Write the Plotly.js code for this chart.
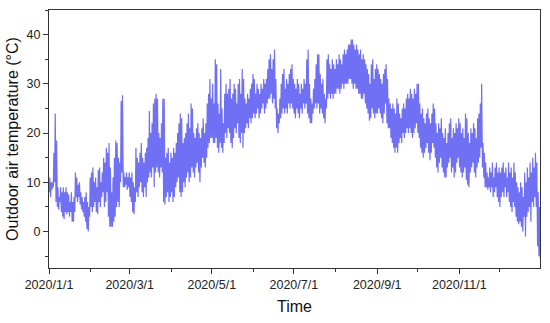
<!DOCTYPE html>
<html>
<head>
<meta charset="utf-8">
<script src="https://cdn.plot.ly/plotly-3.0.1.min.js"></script>
<style>html,body{margin:0;padding:0;background:#fff;}#chart{width:550px;height:323px;}</style>
</head>
<body>
<div id="chart"></div>
<script>
// Daily high / low outdoor air temperature (°C), 2020-01-01 .. 2020-12-31
const dailyHigh = [
// Jan
11,10,10,16,24,18.5,9,7,9,8,9,8,9,8,7.5,6,8,6,7,12,11,9.5,10,8,7,6,7,8,6,5,11,
// Feb
12,13,10,11,9,12.5,13,10,12,15,14,17,16,18,13,8,11,15,18.5,18,15,14,26.5,27.7,12,11,12,11,12,
// Mar
11,12,10,9,17,15,14,16,18,15,14,16,17,19,24.5,20,22,26,27,28,27,20,19,22,27,27,15,16,17,14,16,
// Apr
15,17,16,18,20,22,24,23,18,19,20,22,24,21,26,25,20,19,21,22,20,19,21,23,20,22,26,28,31,27,
// May
30,26,35,34,26,24,33,25,22,28,30,28,29,31,27,28,30,29,26,30,31,28,33,31,27,26,28,27,29,30,32,
// Jun
31,28,30,29,28,30,29,31,30,31,33,35,36,33,35,37,31,25,24,27,30,32,33,29,31,30,32,33,34,31,
// Jul
30,29,31,30,28,30,29,31,30,35,37,30,27,26,29,31,34,36,36,32,30,31,28,27,35,36,34,33,35,34,33,
// Aug
35,34,36,35,34,36,37,36,37,38,38,39,39,38,37,38,37,36,37,35,36,35,34,33,32,30,34,35,31,33,34,
// Sep
33,32,31,30,32,33,34,31,27,26,25,26,25,24,27,26,24,23,25,26,25,27,28,27,29,28,27,29,28,30,
// Oct
30,26,24,25,23,22,24,25,23,22,24,26,25,22,20,22,21,23,20,19,21,18,20,22,23,19,21,20,22,21,23,
// Nov
22,20,21,19,24,23,20,18,21,20,22,21,19,23,24,26,30,18,16,14,12,11,13,12,14,11,13,14,12,13,
// Dec
12,13,14,12,13,11,14,12,13,11,14,12,10,9,8,10,9,7,12,10,13,11,14,12,15,13,16,14,8,5,3
];
const dailyLow = [
// Jan
8,7,8.5,9,10,6,5,4.5,6,4,3,2.5,4,3.5,4,3,4,2,2,4,7,6,7,5.5,4.5,4,3,2,0.5,0,3,
// Feb
5,4,5,6,4,3.5,6,5,7,8,5,6,8,3,1,1,1,2,3,5,6,5,10,12,9,9,9.5,8.5,9,
// Mar
7,6,4,3.5,6,8,7,9,10,8,7,9,7,10,11,12,11,13,9,12,13,12,11,13,12,6,5.5,7,8,6,7,
// Apr
8,6,7,9,10,11,8,7,8,10,9,11,12,10,11,13,12,11,13,14,12,10,13,15,14,13,15,17,18,19,
// May
19,18,18,19,17,16,18,17,16,18,20,19,21,20,18,17,19,21,20,22,19,18,20,17,20,21,22,21,23,22,23,
// Jun
24,23,24,25,23,24,25,26,24,25,26,27,27,28,26,27,25,21,20,22,23,24,25,24,25,24,26,25,26,25,
// Jul
24,23,25,24,23,25,24,26,25,26,24,23,22,22,24,25,26,25,26,24,25,24,23,22,25,27,28,27,28,27,28,
// Aug
28,29,29,28,29,30,29,30,30,30,31,31,30,29,30,29,29,28,28,27,27,28,26,25,24,22.5,23,25,24,23,24,
// Sep
24,25,24,23,22,24,26,22,21,21,19,18,17,16,17,16,18,19,18,20,19,20,21,20,21,20,19,20,21,22,
// Oct
20,19,17,16,15,16,17,18,16,14.5,16,18,17,15,13,12,14,15,13,12,11,11,13,14,15,12,13,11,12,14,15,
// Nov
13,12,11,12,13,10.5,9.5,9,12,13,14,12,11,13,14,15,17,13,11,9,9,8.5,9,8,9,7,8,9,7,6,
// Dec
5,7,8,7,9,7,8,6,5,4,6,5,3,2,1.5,2,1,0,3,-1,3,4,5,2,6,5,7,5,-3,-5,-5.5
];

const xTickStart = '2020-01-01';
const xRange = ['2020-01-01', '2020-12-31'];
const yTicks = [0, 10, 20, 30, 40];

// build one zig-zag series: low in the early morning, high in the afternoon
const xs = [], ys = [];
const base = Date.UTC(2020, 0, 1);
function fmt(ms) {
  const d = new Date(ms);
  const p = n => String(n).padStart(2, '0');
  return d.getUTCFullYear() + '-' + p(d.getUTCMonth() + 1) + '-' + p(d.getUTCDate()) + ' ' + p(d.getUTCHours()) + ':00';
}
for (let i = 0; i < dailyHigh.length; i++) {
  xs.push(fmt(base + (i * 24 + 5) * 3600e3)); ys.push(dailyLow[i]);
  xs.push(fmt(base + (i * 24 + 15) * 3600e3)); ys.push(dailyHigh[i]);
}

const trace = {
  x: xs, y: ys, type: 'scatter', mode: 'lines',
  line: {color: '#7070f4', width: 1.2},
  hoverinfo: 'skip'
};

const axisFont = {family: 'Liberation Sans, Arial, sans-serif', size: 12.5, color: '#222'};
const layout = {
  width: 550, height: 323,
  margin: {l: 49, r: 10, t: 10, b: 55},
  paper_bgcolor: '#fff', plot_bgcolor: '#fff',
  showlegend: false,
  font: {family: 'Liberation Sans, Arial, sans-serif', color: '#222'},
  xaxis: {
    type: 'date', range: xRange,
    tick0: xTickStart, dtick: 'M2', tickformat: '%Y/%-m/%-d',
    ticks: 'outside', ticklen: 5, tickwidth: 1, tickcolor: '#333',
    minor: {dtick: 'M1', ticks: 'outside', ticklen: 3, tickcolor: '#333', showgrid: false},
    showline: true, linecolor: '#333', linewidth: 1, mirror: true,
    showgrid: false, zeroline: false,
    tickfont: axisFont,
    title: {text: 'Time', font: {size: 16, color: '#111'}, standoff: 9}
  },
  yaxis: {
    range: [-7.4, 45],
    tickvals: yTicks,
    ticks: 'outside', ticklen: 5, tickwidth: 1, tickcolor: '#333',
    minor: {dtick: 5, tick0: 0, ticks: 'outside', ticklen: 3, tickcolor: '#333', showgrid: false},
    showline: true, linecolor: '#333', linewidth: 1, mirror: true,
    showgrid: false, zeroline: false,
    tickfont: axisFont,
    title: {text: 'Outdoor air temperature (°C)', font: {size: 16, color: '#111'}, standoff: 3}
  }
};

Plotly.newPlot('chart', [trace], layout, {displayModeBar: false, staticPlot: true});
</script>
</body>
</html>
